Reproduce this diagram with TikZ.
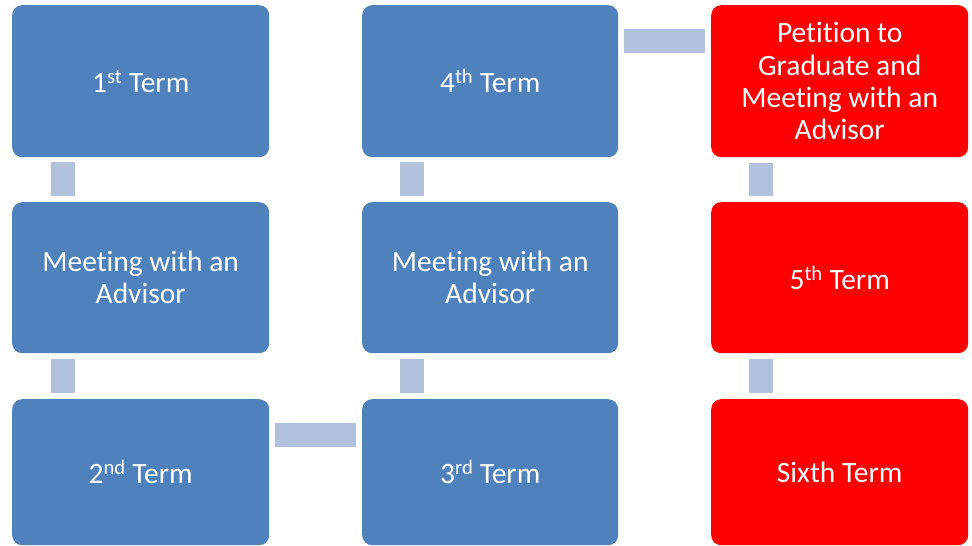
\documentclass[tikz,border=0pt]{standalone}
\usepackage{fontspec}
\setmainfont{Carlito}[Ligatures=NoCommon]
\usetikzlibrary{calc}
\definecolor{boxblue}{HTML}{4F81BD}
\definecolor{boxred}{HTML}{FF0000}
\definecolor{connblue}{HTML}{B2C1DC}
\tikzset{
  termbox/.style={rounded corners=10pt, inner sep=0pt, text=white, align=center,
    font=\fontsize{29.5}{32.3}\selectfont, anchor=north west, minimum width=257pt},
  bluebox/.style={termbox, fill=boxblue},
  redbox/.style={termbox, fill=boxred},
  conn/.style={fill=connblue}
}
\begin{document}
\begin{tikzpicture}[x=1pt,y=-1pt]
\useasboundingbox (0,0) rectangle (972,546);
% column 1
\node[bluebox, minimum height=152pt] (t1) at (12,5) {1\textsuperscript{st} Term};
\node[bluebox, minimum height=151pt] (m1) at (12,202) {Meeting with an\\Advisor};
\node[bluebox, minimum height=146pt] (t2) at (12,399) {2\textsuperscript{nd} Term};
% column 2
\node[bluebox, minimum width=256pt, minimum height=152pt] (t4) at (362,5) {4\textsuperscript{th} Term};
\node[bluebox, minimum width=256pt, minimum height=151pt] (m2) at (362,202) {Meeting with an\\Advisor};
\node[bluebox, minimum width=256pt, minimum height=146pt] (t3) at (362,399) {3\textsuperscript{rd} Term};
% column 3
\node[redbox, minimum height=152pt] (pg) at (711,5) {Petition to\\Graduate and\\Meeting with an\\Advisor};
\node[redbox, minimum height=151pt] (t5) at (711,202) {5\textsuperscript{th} Term};
\node[redbox, minimum height=146pt] (t6) at (711,399) {Sixth Term};
% connectors
\fill[conn] ($(t1.south west)+(38.7,5)$) rectangle ($(m1.north west)+(62.7,-6)$);
\fill[conn] ($(m1.south west)+(38.7,6)$) rectangle ($(t2.north west)+(62.7,-6)$);
\fill[conn] ($(t2.north east)+(6,24)$) rectangle ($(t3.north west)+(-6,48)$);
\fill[conn] ($(t3.north west)+(38,-6)$) rectangle ($(m2.south west)+(62,6)$);
\fill[conn] ($(m2.north west)+(38,-6)$) rectangle ($(t4.south west)+(62,5)$);
\fill[conn] ($(t4.north east)+(6,24)$) rectangle ($(pg.north west)+(-6,48)$);
\fill[conn] ($(pg.south west)+(38,6)$) rectangle ($(t5.north west)+(62,-6)$);
\fill[conn] ($(t5.south west)+(38,6)$) rectangle ($(t6.north west)+(62,-6)$);
\end{tikzpicture}
\end{document}
